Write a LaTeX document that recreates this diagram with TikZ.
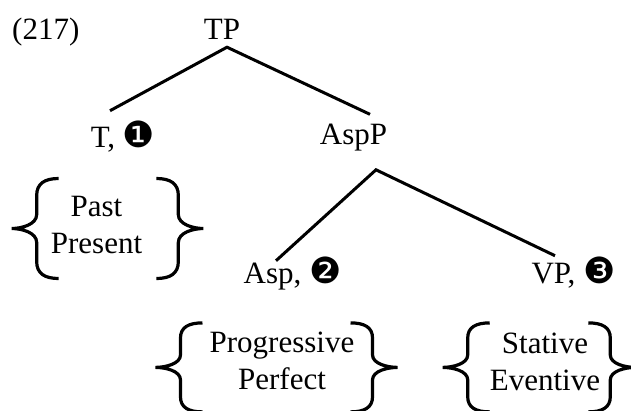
\documentclass[tikz,border=0pt]{standalone}
\usepackage{fontspec}
\setmainfont{Liberation Serif}
\newfontfamily\dingfont{DejaVu Sans}
\newcommand{\featnum}[1]{{\dingfont\fontsize{36}{36}\selectfont #1}}

\tikzset{
  branch/.style={line width=3pt},
  pics/curly/.style={code={
    \draw[line width=3.2pt] (47,50) .. controls (33,50) and (25,45) .. (25,33) -- (25,14)
      .. controls (25,4) and (10,0) .. (0,0) .. controls (10,0) and (25,-4) .. (25,-14)
      -- (25,-33) .. controls (25,-45) and (33,-50) .. (47,-50);
  }}
}

\begin{document}
\begin{tikzpicture}[x=1pt,y=1pt,every node/.style={inner sep=0pt,anchor=base,font=\fontsize{31}{37}\selectfont}]
		\useasboundingbox (0,0) rectangle (631,-410);
		\node [anchor=base west] (exnum) at (12,-39) {(217)};
		\node (tp) at (222,-39) {TP};
		\node (t) at (123,-147) {T, \featnum{❶}};
		\node (aspp) at (353.5,-144) {AspP};
		\node (asp) at (292.5,-283) {Asp, \featnum{❷}};
		\node (vp) at (573.5,-283) {VP, \featnum{❸}};
		% value sets below the heads
		\node [align=center] (tvals) at (96.5,-253) {Past\\Present};
		\node [align=center] (pvals) at (282,-389) {Progressive\\Perfect};
		\node [align=center] (svals) at (545,-390) {Stative\\Eventive};
		\draw [branch] ([shift={(-13,9.5)}]t.north) -- ([shift={(5,-8)}]tp.south) -- ([shift={(16.5,9)}]aspp.north);
		\draw [branch] ([shift={(-16.5,-4.5)}]asp.north) -- ([shift={(22.5,-19)}]aspp.south) -- ([shift={(-18.5,0.5)}]vp.north);
		\pic at ([shift={(-39,-4)}]tvals.west) {curly};
		\pic [xscale=-1] at ([shift={(61,-4)}]tvals.east) {curly};
		\pic [yscale=0.89] at ([shift={(-54,-7)}]pvals.west) {curly};
		\pic [xscale=-1,yscale=0.89] at ([shift={(43,-7)}]pvals.east) {curly};
		\pic [yscale=0.89] at ([shift={(-47,-6)}]svals.west) {curly};
		\pic [xscale=-1,yscale=0.89] at ([shift={(35,-6)}]svals.east) {curly};
	\end{tikzpicture}
\end{document}
